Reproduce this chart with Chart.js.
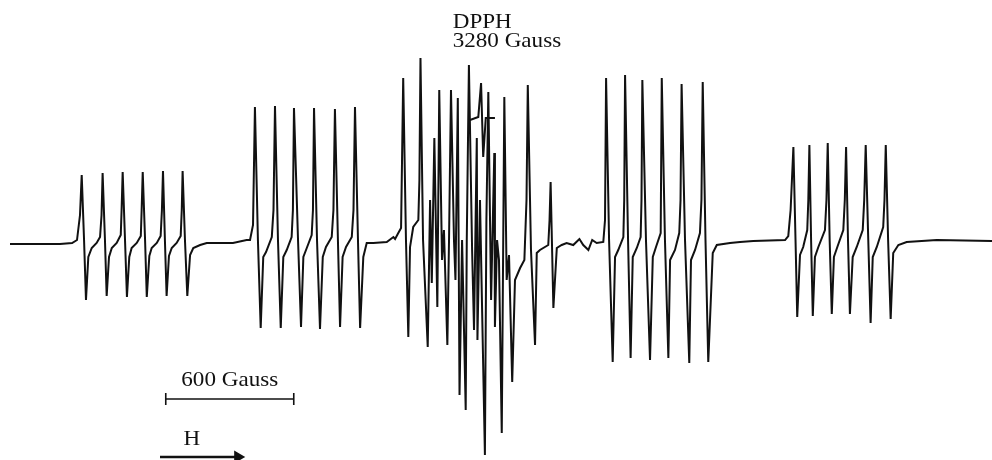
<!DOCTYPE html>
<html>
<head>
<meta charset="utf-8">
<script src="https://cdn.jsdelivr.net/npm/chart.js@4/dist/chart.umd.min.js"></script>
<style>
  html, body { margin: 0; padding: 0; background: #ffffff; }
  #wrap { width: 992px; height: 460px; position: relative; }
</style>
</head>
<body>
<div id="wrap"><canvas id="c"></canvas></div>
<script>
// Magnetic field (Gauss) and derivative signal (arbitrary units)
const group1Field  = [1072,1213,1306,1363,1386,1400,1408,1419,1428,1439,1455,1478,1494,1501,1506,1517,1525,1536,1549,1572,1591,1595,1600,1611,1620,1631,1642,1666,1685,1689,1694,1705,1713,1725,1736,1760,1778,1784,1789,1798,1806,1817,1830,1853,1872,1877,1881,1892,1903,1916,1931,1963,1994,2117,2181];
const group1Signal = [-1,-1,-1,0,3,28,68,3,-57,-14,-5,0,6,28,70,3,-53,-14,-5,0,8,33,71,3,-54,-14,-5,0,7,33,71,3,-54,-13,-5,0,7,33,72,3,-53,-13,-5,0,7,33,72,3,-53,-12,-5,-2,0,0,3];

const group2Field  = [2197,2211,2220,2234,2247,2259,2272,2299,2307,2314,2328,2341,2353,2369,2392,2398,2403,2422,2436,2447,2463,2486,2492,2497,2511,2525,2538,2553,2580,2588,2595,2609,2619,2631,2647,2674,2682,2689,2703,2713,2728,2744,2775,2838,2869,2877,2892,2905];
const group2Signal = [3,18,136,3,-85,-14,-9,6,33,137,3,-85,-14,-7,6,33,135,3,-84,-14,-5,8,33,135,3,-86,-14,-4,6,33,134,3,-84,-14,-4,6,33,136,3,-85,-14,0,0,1,6,4,10,15];

const centreField  = [2915,2928,2939,2947,2962,2986,2991,2996,3008,3030,3041,3049,3061,3075,3084,3097,3106,3122,3130,3139,3153,3160,3171,3179,3191,3208,3213,3223,3238,3247,3260,3263,3275,3284,3298,3305,3314,3327,3342,3345,3355,3364,3377,3389,3400,3411,3426,3439,3463,3483,3493,3499,3514,3533,3541,3556,3595,3601,3606,3619,3635,3658,3681,3712,3741,3759,3783,3801,3822,3853];
const centreSignal = [165,3,-94,-4,16,23,63,185,3,-104,43,-40,105,-64,153,-17,13,-102,6,153,3,-37,145,-152,3,-167,3,178,-7,-87,105,-97,43,-57,-212,23,151,-57,90,-84,3,-17,-190,146,-37,-12,-139,-37,-25,-17,43,158,-7,-102,-10,-7,-2,23,61,-65,-5,-2,0,-2,4,-2,-7,3,0,1];

const group4Field  = [3861,3866,3880,3897,3908,3923,3947,3951,3955,3969,3981,3991,4010,4028,4032,4036,4053,4072,4085,4100,4122,4127,4142,4158,4166,4189,4209,4215,4220,4236,4256,4264,4283,4306,4313,4319,4332,4345,4366,4385,4447,4494,4556,4705,4720];
const group4Signal = [23,165,3,-119,-14,-7,6,43,168,3,-115,-14,-5,6,43,163,3,-117,-14,-4,10,165,3,-115,-17,-7,10,43,159,3,-120,-17,-7,10,43,161,3,-119,-10,-2,0,1,2,3,7];

const group5Field  = [4731,4744,4754,4762,4775,4790,4809,4814,4819,4827,4835,4845,4861,4892,4899,4905,4914,4924,4934,4950,4978,4985,4991,5000,5009,5022,5041,5069,5076,5083,5095,5106,5116,5135,5165,5171,5177,5188,5200,5212,5236,5275,5416,5675];
const group5Signal = [33,96,3,-74,-12,-4,13,43,98,3,-73,-14,-4,13,43,100,3,-71,-14,-4,13,43,96,3,-71,-14,-4,13,43,98,3,-80,-14,-4,16,43,98,3,-76,-10,-2,1,3,2];

// DPPH reference marker trace (offset above the spectrum)
const dpphField  = [3228,3267,3280,3290,3302,3345];
const dpphSignal = [123,126,160,86,125,125];

// Scale bar (600 Gauss) and field-direction arrow
const scaleBarField  = [1802,2402];
const scaleBarSignal = [-156,-156];
const arrowField  = [1775,2140];
const arrowSignal = [-214,-214];

const FIELD_MIN = 1025, FIELD_MAX = 5675;
const SIGNAL_MIN = -217, SIGNAL_MAX = 243;

function zip(xs, ys) { return xs.map((x, i) => ({ x: x, y: ys[i] })); }

const spectrum = [].concat(
  zip(group1Field, group1Signal),
  zip(group2Field, group2Signal),
  zip(centreField, centreSignal),
  zip(group4Field, group4Signal),
  zip(group5Field, group5Signal)
);

const textLabels = [
  { text: 'DPPH',       x: 3147, y: 215,  align: 'left' },
  { text: '3280 Gauss', x: 3147, y: 196,  align: 'left' },
  { text: '600 Gauss',  x: 2102, y: -143, align: 'center' },
  { text: 'H',          x: 1924, y: -202, align: 'center' }
];

const textPlugin = {
  id: 'textLabels',
  afterDatasetsDraw(chart) {
    const ctx = chart.ctx, xs = chart.scales.x, ys = chart.scales.y;
    const stretch = 1.1;
    ctx.save();
    ctx.fillStyle = '#111';
    ctx.font = '21px "Liberation Serif", "Times New Roman", serif';
    ctx.textBaseline = 'alphabetic';
    textLabels.forEach(l => {
      const px = xs.getPixelForValue(l.x), py = ys.getPixelForValue(l.y);
      ctx.save();
      ctx.translate(px, py);
      ctx.scale(stretch, 1);
      ctx.textAlign = l.align;
      ctx.fillText(l.text, 0, 0);
      ctx.restore();
    });
    ctx.restore();
  }
};

new Chart(document.getElementById('c'), {
  type: 'line',
  data: {
    datasets: [
      { label: 'EPR spectrum', data: spectrum, borderColor: '#111', borderWidth: 2,
        pointRadius: 0, tension: 0, fill: false },
      { label: 'DPPH', data: zip(dpphField, dpphSignal), borderColor: '#111', borderWidth: 2,
        pointRadius: 0, tension: 0, fill: false },
      { label: '600 Gauss', data: zip(scaleBarField, scaleBarSignal), borderColor: '#111', borderWidth: 1.6,
        pointStyle: 'line', pointRotation: 90, pointRadius: 6, pointBorderWidth: 1.6,
        pointBorderColor: '#111', tension: 0, fill: false },
      { label: 'H', data: zip(arrowField, arrowSignal), borderColor: '#111', borderWidth: 2.4,
        pointStyle: 'triangle', pointRotation: 90, pointRadius: [0, 5],
        pointBackgroundColor: '#111', pointBorderColor: '#111', tension: 0, fill: false }
    ]
  },
  options: {
    responsive: true,
    maintainAspectRatio: false,
    animation: false,
    layout: { padding: 0, autoPadding: false },
    plugins: { legend: { display: false }, tooltip: { enabled: false }, title: { display: false } },
    scales: {
      x: { type: 'linear', min: FIELD_MIN, max: FIELD_MAX, display: false },
      y: { type: 'linear', min: SIGNAL_MIN, max: SIGNAL_MAX, display: false }
    },
    elements: { line: { borderJoinStyle: 'miter', borderCapStyle: 'butt' } }
  },
  plugins: [textPlugin]
});
</script>
</body>
</html>
